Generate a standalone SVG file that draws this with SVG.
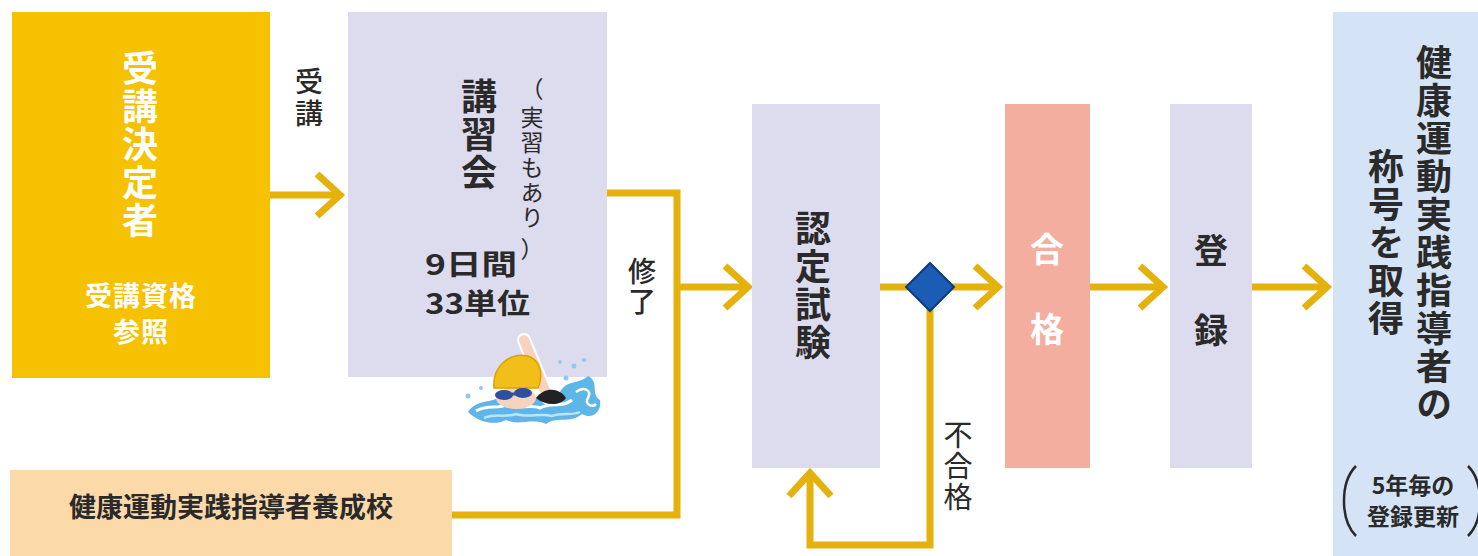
<svg xmlns="http://www.w3.org/2000/svg" width="1478" height="556" viewBox="0 0 1478 556">
  <style>
    .jp { font-family: "Noto Sans CJK JP", "Noto Sans CJK SC", sans-serif; }
    .b { font-weight: 700; }
    .m { font-weight: 500; }
    .w { fill: #ffffff; }
    .d { fill: #2a2a2a; }
    .c { text-anchor: middle; dominant-baseline: central; }
    .v { writing-mode: vertical-rl; text-anchor: start; }
    .flow { fill: none; stroke: #E5B10C; stroke-width: 7; stroke-linejoin: miter; }
  </style>
  <defs>
    <marker id="chev" markerUnits="userSpaceOnUse" viewBox="-30 -28 36 56" markerWidth="36" markerHeight="56" refX="-3" refY="0" orient="auto" overflow="visible">
      <path d="M-23,-21 L0,0 L-23,21" fill="none" stroke="#E5B10C" stroke-width="7"/>
    </marker>
  </defs>

  <rect width="1478" height="556" fill="#ffffff"/>

  <!-- connectors -->
  <g id="connectors">
    <line class="flow" x1="270" y1="195" x2="337" y2="195" marker-end="url(#chev)"/>
    <polyline class="flow" points="607,193 677,193 677,515 452,515"/>
    <line class="flow" x1="677" y1="287" x2="745" y2="287" marker-end="url(#chev)"/>
    <line class="flow" x1="880" y1="287" x2="910" y2="287"/>
    <line class="flow" x1="950" y1="287" x2="995" y2="287" marker-end="url(#chev)"/>
    <polyline class="flow" points="930,305 930,545 810,545 810,476" marker-end="url(#chev)"/>
    <line class="flow" x1="1090" y1="287" x2="1160" y2="287" marker-end="url(#chev)"/>
    <line class="flow" x1="1252" y1="287" x2="1324" y2="287" marker-end="url(#chev)"/>
    <text class="jp m d v" font-size="28" letter-spacing="4" x="309" y="67">受講</text>
    <text class="jp m d v" font-size="28" letter-spacing="2" x="642" y="257">修了</text>
    <text class="jp d v" font-size="29" letter-spacing="2" x="958" y="420">不合格</text>
  </g>

  <!-- decision diamond -->
  <g id="judge">
    <polygon points="930,263 954,287 930,311 906,287" fill="#1B5DB5" stroke="#0C3A7C" stroke-width="2"/>
  </g>

  <!-- applicant -->
  <g id="applicant">
    <rect x="12" y="12" width="258" height="366" fill="#F5C100"/>
    <text class="jp b w v" font-size="36" letter-spacing="2" x="140" y="50">受講決定者</text>
    <text class="jp b w c" font-size="27" letter-spacing="1" x="141" y="294">受講資格</text>
    <text class="jp b w c" font-size="27" letter-spacing="1" x="141" y="330">参照</text>
  </g>

  <!-- training course -->
  <g id="course">
    <rect x="348" y="12" width="259" height="365" fill="#DDDCEF"/>
    <text class="jp b d v" font-size="36" letter-spacing="2" x="479" y="78">講習会</text>
    <text class="jp d c" font-size="23" x="532" y="88">（</text>
    <text class="jp d v" font-size="23" letter-spacing="2" x="532" y="106">実習もあり</text>
    <text class="jp d c" font-size="23" x="532" y="248">）</text>
    <text class="jp b d" font-size="28" x="425" y="275" textLength="92" lengthAdjust="spacingAndGlyphs">9日間</text>
    <text class="jp b d" font-size="28" x="425" y="314" textLength="105" lengthAdjust="spacingAndGlyphs">33単位</text>
  </g>

  <!-- swimmer illustration -->
  <g id="swimmer">
    <path d="M468,412 C478,398 492,404 500,396 C510,404 520,396 530,402 C540,392 552,400 560,392 C566,380 580,384 588,376 C600,382 590,394 600,400 C602,412 592,420 582,414 C570,424 556,416 546,424 C532,418 518,426 506,420 C494,426 478,422 468,412 Z" fill="#5EB6E8"/>
    <path d="M576,392 C584,386 592,390 588,398 C584,404 592,408 596,404" fill="none" stroke="#ffffff" stroke-width="2.5"/>
    <path d="M476,411 C488,404 498,410 508,404 C518,410 530,404 540,408 C552,402 562,408 572,400" fill="none" stroke="#ffffff" stroke-width="3"/>
    <path d="M484,418 C496,413 506,418 516,414 C528,418 540,413 552,416 C562,412 572,416 580,412" fill="none" stroke="#BFE3F7" stroke-width="2.5"/>
    <path d="M548,398 L524,340" stroke="#ffffff" stroke-width="14" stroke-linecap="round"/>
    <path d="M548,398 L524,340" stroke="#F7D2BE" stroke-width="10" stroke-linecap="round"/>
    <path d="M536,398 C545,386 560,388 566,398 C560,406 546,406 536,398 Z" fill="#222222"/>
    <ellipse cx="516" cy="398" rx="20" ry="11" fill="#F7D2BE"/>
    <path d="M494,388 C492,366 510,352 528,356 C540,360 544,374 538,388 Z" fill="#F2BE1A" stroke="#D9A200" stroke-width="1.5"/>
    <ellipse cx="504" cy="395" rx="9" ry="5" fill="#2D4FA0"/>
    <ellipse cx="523" cy="393" rx="9" ry="5" fill="#2D4FA0"/>
    <line x1="512" y1="394" x2="515" y2="394" stroke="#2D4FA0" stroke-width="3"/>
    <circle cx="468" cy="396" r="2.5" fill="#8FCBEF"/>
    <circle cx="481" cy="388" r="2" fill="#8FCBEF"/>
    <circle cx="560" cy="362" r="2" fill="#8FCBEF"/>
    <circle cx="574" cy="366" r="2.5" fill="#8FCBEF"/>
    <circle cx="584" cy="360" r="2" fill="#8FCBEF"/>
    <circle cx="566" cy="378" r="2.5" fill="#8FCBEF"/>
  </g>

  <!-- training school -->
  <g id="school">
    <rect x="10" y="470" width="442" height="86" fill="#FBD9A9"/>
    <text class="jp b d c" font-size="27" x="231" y="505">健康運動実践指導者養成校</text>
  </g>

  <!-- certification exam -->
  <g id="exam">
    <rect x="752" y="104" width="128" height="364" fill="#DDDCEF"/>
    <text class="jp b d v" font-size="36" letter-spacing="2" x="813" y="210">認定試験</text>
  </g>

  <!-- pass -->
  <g id="pass">
    <rect x="1005" y="104" width="85" height="364" fill="#F3AE9F"/>
    <text class="jp b w c" font-size="34" x="1047" y="247">合</text>
    <text class="jp b w c" font-size="34" x="1047" y="327">格</text>
  </g>

  <!-- registration -->
  <g id="register">
    <rect x="1170" y="104" width="82" height="364" fill="#DDDCEF"/>
    <text class="jp b d c" font-size="34" x="1211" y="248">登</text>
    <text class="jp b d c" font-size="34" x="1211" y="328">録</text>
  </g>

  <!-- title acquired -->
  <g id="title">
    <rect x="1333" y="12" width="145" height="544" fill="#D4E3F5"/>
    <text class="jp b d v" font-size="36" letter-spacing="2" x="1434" y="44">健康運動実践指導者の</text>
    <text class="jp b d v" font-size="36" letter-spacing="2" x="1386" y="148">称号を取得</text>
    <path d="M1356,466 C1340,482 1340,520 1356,536" fill="none" stroke="#2a2a2a" stroke-width="2.5"/>
    <path d="M1468,466 C1484,482 1484,520 1468,536" fill="none" stroke="#2a2a2a" stroke-width="2.5"/>
    <text class="jp b d c" font-size="23" x="1413" y="484">5年毎の</text>
    <text class="jp b d c" font-size="23" x="1413" y="515">登録更新</text>
  </g>
</svg>
